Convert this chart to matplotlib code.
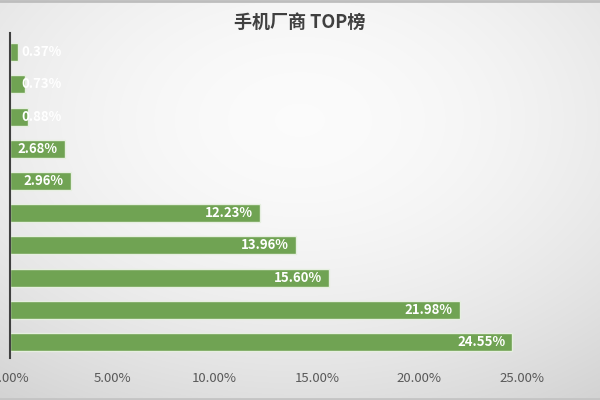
import numpy as np
import matplotlib
matplotlib.use("Agg")
import matplotlib.pyplot as plt
from matplotlib.ticker import FuncFormatter

plt.rcParams['font.family'] = ['Noto Sans CJK SC', 'DejaVu Sans']

# data (bottom bar first)
ranks = ['TOP1', 'TOP2', 'TOP3', 'TOP4', 'TOP5', 'TOP6', 'TOP7', 'TOP8', 'TOP9', 'TOP10']
shares = [24.55, 21.98, 15.60, 13.96, 12.23, 2.96, 2.68, 0.88, 0.73, 0.37]
x_ticks = [0, 5, 10, 15, 20, 25]
title = '手机厂商 TOP榜'

fig = plt.figure(figsize=(6, 4), dpi=100)

# radial gradient background, light centre a bit above the middle
bg = fig.add_axes([0, 0, 1, 1], zorder=-10)
gx, gy = np.meshgrid(np.linspace(-1, 1, 600), np.linspace(-1, 1, 400))
r = np.sqrt(gx ** 2 + (gy + 0.4) ** 2)
shade = np.clip(0.985 - 0.06 * r ** 1.8, 0, 1)
bg.imshow(np.dstack([shade] * 3), extent=[0, 1, 0, 1], aspect='auto', origin='upper')
bg.set_xlim(0, 1)
bg.set_ylim(0, 1)
bg.set_axis_off()
# thin frame lines top and bottom
bg.axhline(0.997, color='#bdbdbd', lw=2)
bg.axhline(0.003, color='#c4c4c4', lw=2)

ax = fig.add_axes([10 / 600, 1 - 358 / 400, 573 / 600, 325 / 400])
ax.patch.set_alpha(0)
y = np.arange(len(ranks))
ax.barh(y, shares, height=0.56, color='#70A353', edgecolor='#e6efe0', linewidth=1)

for yi, v in zip(y, shares):
    if v < 2:
        ax.annotate(f'{v:.2f}%', (0, yi), xytext=(8.5, 0), textcoords='offset points',
                    ha='left', va='center', color='white', fontsize=9.5, fontweight='bold')
    else:
        ax.annotate(f'{v:.2f}%', (v, yi), xytext=(-5, 0), textcoords='offset points',
                    ha='right', va='center', color='white', fontsize=9.5, fontweight='bold')

ax.set_xlim(0, 28)
ax.set_ylim(-0.5, len(ranks) - 0.4)
ax.set_xticks(x_ticks)
ax.xaxis.set_major_formatter(FuncFormatter(lambda v, p: f'{v:.2f}%'))
ax.tick_params(axis='x', length=0, pad=10, labelsize=9.5, labelcolor='#595959')
ax.set_yticks([])
for s in ['top', 'right', 'bottom']:
    ax.spines[s].set_visible(False)
ax.spines['left'].set_color('#404040')
ax.spines['left'].set_linewidth(1.5)

fig.text(0.5, 1 - 22 / 400, title, ha='center', va='center', fontsize=13,
         fontweight='bold', color='#404040')

fig.savefig('out.png', dpi=100)
